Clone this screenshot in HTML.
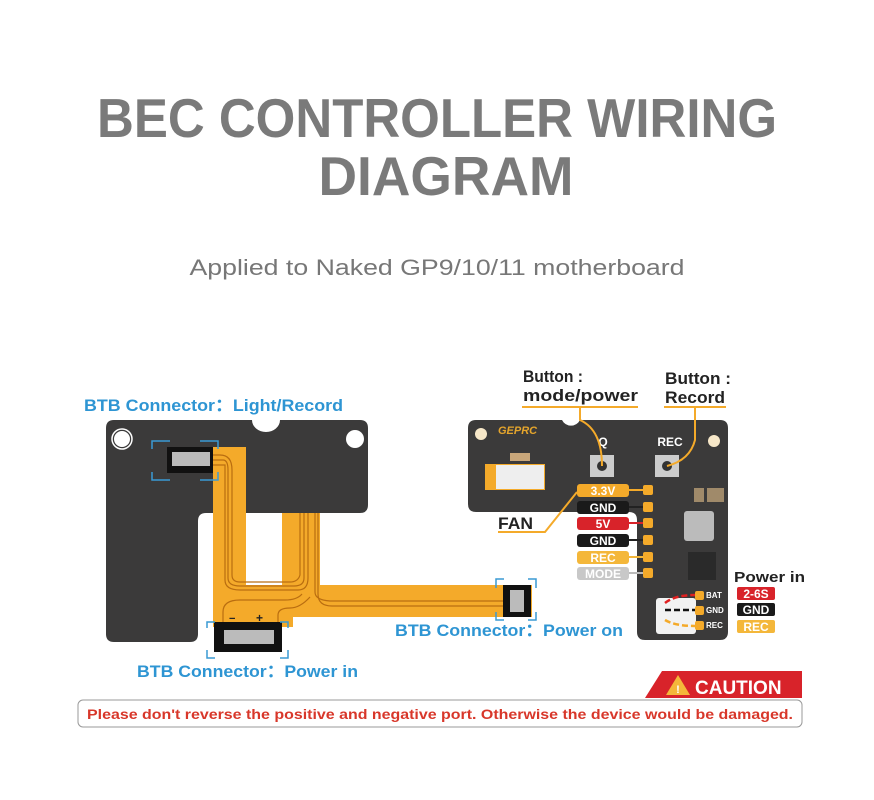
<!DOCTYPE html>
<html><head><meta charset="utf-8"><style>html,body{margin:0;padding:0;background:#fff}svg{display:block}</style></head>
<body>
<svg width="874" height="800" viewBox="0 0 874 800" xmlns="http://www.w3.org/2000/svg" font-family="Liberation Sans, sans-serif">
<rect width="874" height="800" fill="#fff"/>
<text x="437" y="137" text-anchor="middle" font-size="55" font-weight="bold" fill="#7a7a7a" textLength="680" lengthAdjust="spacingAndGlyphs">BEC CONTROLLER WIRING</text>
<text x="446" y="195" text-anchor="middle" font-size="55" font-weight="bold" fill="#7a7a7a" textLength="255" lengthAdjust="spacingAndGlyphs">DIAGRAM</text>
<text x="437" y="275" text-anchor="middle" font-size="22" fill="#777" textLength="495" lengthAdjust="spacingAndGlyphs">Applied to Naked GP9/10/11 motherboard</text>

<!-- left board -->
<path d="M114 420 H252 A14 12 0 0 0 280 420 H360 Q368 420 368 428 V505 Q368 513 360 513 H206 Q198 513 198 521 V634 Q198 642 190 642 H114 Q106 642 106 634 V428 Q106 420 114 420Z" fill="#3b3a3a"/>
<circle cx="122" cy="439" r="9" fill="#fff" stroke="#3b3a3a" stroke-width="2"/><circle cx="122" cy="439" r="10" fill="none" stroke="#fff" stroke-width="1.5"/>
<circle cx="355" cy="439" r="9" fill="#fff"/>
<!-- flex -->
<g fill="#f4aa2a">
<rect x="213" y="447" width="33" height="180"/>
<rect x="282" y="513" width="38" height="90"/>
<rect x="240" y="585" width="292" height="32"/>
<rect x="213" y="595" width="80" height="32"/>
</g>
<g fill="none" stroke="#b96d10" stroke-width="1.2">
<path d="M205 455 H220 Q232 455 232 470 V575 Q232 582 240 582 H290 Q298 582 300 575 V513"/>
<path d="M205 460 H223 Q228 460 228 470 V578 Q228 586 240 586 H294 Q304 586 304 578 V513"/>
<path d="M205 465 H225 V580 Q225 590 240 590 H298 Q308 590 308 578 V513"/>
<path d="M315 513 V592 Q315 600 330 601 H500 Q510 601 512 598"/>
<path d="M318 513 V594 Q318 606 332 606 H505"/>
<path d="M223 627 V612 Q223 600 240 600 H285 Q297 600 302 594"/>
<path d="M278 627 V615 Q278 608 290 608 Q300 608 310 597"/>
</g>
<rect x="167" y="447" width="46" height="26" fill="#111"/>
<rect x="172" y="452" width="38" height="14" fill="#bbb"/>
<rect x="214" y="622" width="68" height="30" fill="#111"/>
<rect x="224" y="630" width="50" height="14" fill="#bbb"/>
<rect x="503" y="585" width="28" height="32" fill="#111"/>
<rect x="510" y="590" width="14" height="22" fill="#bbb"/>
<text x="229" y="622" font-size="11" font-weight="bold" fill="#222">−</text>
<text x="256" y="622" font-size="12" font-weight="bold" fill="#222">+</text>
<g fill="none" stroke="#3a9ad4" stroke-width="1.5">
<path d="M152 449 V441 H170 M200 441 H218 V449 M152 472 V480 H170 M200 480 H218 V472"/>
<path d="M207 628 V622 H215 M280 622 H288 V628 M207 650 V658 H215 M280 658 H288 V650"/>
<path d="M496 588 V579 H504 M528 579 H536 V588 M496 612 V620 H504 M528 620 H536 V612"/>
</g>
<g font-size="17" font-weight="bold" fill="#2e95d3">
<text x="84" y="411" textLength="259" lengthAdjust="spacingAndGlyphs">BTB Connector：Light/Record</text>
<text x="137" y="677" textLength="221" lengthAdjust="spacingAndGlyphs">BTB Connector：Power in</text>
<text x="395" y="636" textLength="228" lengthAdjust="spacingAndGlyphs">BTB Connector：Power on</text>
</g>

<!-- right board -->
<path d="M476 420 H562 A10 10 0 0 0 580 420 H720 Q728 420 728 428 V632 Q728 640 720 640 H645 Q637 640 637 632 V520 Q637 512 629 512 H476 Q468 512 468 504 V428 Q468 420 476 420Z" fill="#3b3a3a"/>
<circle cx="481" cy="434" r="6" fill="#f6e7c8"/><circle cx="714" cy="441" r="6" fill="#f6e7c8"/>
<text x="498" y="434" font-size="11" font-weight="bold" font-style="italic" fill="#e5a52c">GEPRC</text>
<rect x="485" y="464" width="60" height="26" fill="#f4aa2a"/><rect x="496" y="465" width="48" height="24" fill="#eee"/>
<rect x="510" y="453" width="20" height="8" fill="#c8a67a"/>
<rect x="590" y="455" width="24" height="22" fill="#ccc"/><circle cx="602" cy="466" r="5" fill="#333"/>
<rect x="655" y="455" width="24" height="22" fill="#ccc"/><circle cx="667" cy="466" r="5" fill="#333"/>
<text x="603" y="446" font-size="12" font-weight="bold" fill="#fff" text-anchor="middle">Q</text>
<text x="670" y="446" font-size="12" font-weight="bold" fill="#fff" text-anchor="middle">REC</text>
<rect x="684" y="511" width="30" height="30" rx="3" fill="#bbb"/>
<rect x="694" y="488" width="10" height="14" fill="#a08a6a"/><rect x="707" y="488" width="10" height="14" fill="#a08a6a"/><rect x="716" y="488" width="8" height="14" fill="#a08a6a"/>
<rect x="688" y="552" width="28" height="28" fill="#2a2a2a"/>
<rect x="656" y="598" width="40" height="36" rx="3" fill="#f2f2f2"/>
<g fill="#f4aa2a"><rect x="643" y="485" width="10" height="10" rx="2"/><rect x="643" y="502" width="10" height="10" rx="2"/><rect x="643" y="518" width="10" height="10" rx="2"/><rect x="643" y="535" width="10" height="10" rx="2"/><rect x="643" y="552" width="10" height="10" rx="2"/><rect x="643" y="568" width="10" height="10" rx="2"/>
<rect x="695" y="591" width="9" height="9" rx="2"/><rect x="695" y="606" width="9" height="9" rx="2"/><rect x="695" y="621" width="9" height="9" rx="2"/></g>
<g stroke-width="2.5" fill="none" stroke-dasharray="6,3"><path d="M665 603 Q675 595 695 595" stroke="#e02020"/><path d="M665 610 H695" stroke="#111"/><path d="M665 620 Q675 626 695 626" stroke="#f4aa2a"/></g>
<g font-size="8" font-weight="bold" fill="#fff"><text x="706" y="598">BAT</text><text x="706" y="613">GND</text><text x="706" y="628">REC</text></g>
<!-- wire pills -->
<g stroke-width="2"><line x1="628" y1="490" x2="643" y2="490" stroke="#f4aa2a"/><line x1="628" y1="507" x2="643" y2="507" stroke="#222"/><line x1="628" y1="523" x2="643" y2="523" stroke="#d8232a"/><line x1="628" y1="540" x2="643" y2="540" stroke="#222"/><line x1="628" y1="557" x2="643" y2="557" stroke="#f4b73a"/><line x1="628" y1="573" x2="643" y2="573" stroke="#bbb"/></g>
<g font-size="12" font-weight="bold" fill="#fff" text-anchor="middle">
<rect x="577" y="484" width="52" height="13" rx="3" fill="#f4aa2a"/><text x="603" y="495">3.3V</text>
<rect x="577" y="501" width="52" height="13" rx="3" fill="#1a1a1a"/><text x="603" y="512">GND</text>
<rect x="577" y="517" width="52" height="13" rx="3" fill="#d8232a"/><text x="603" y="528">5V</text>
<rect x="577" y="534" width="52" height="13" rx="3" fill="#1a1a1a"/><text x="603" y="545">GND</text>
<rect x="577" y="551" width="52" height="13" rx="3" fill="#f4b73a"/><text x="603" y="562">REC</text>
<rect x="577" y="567" width="52" height="13" rx="3" fill="#c8c8c8"/><text x="603" y="578">MODE</text>
<rect x="737" y="587" width="38" height="13" rx="2" fill="#d8232a"/><text x="756" y="598">2-6S</text>
<rect x="737" y="603" width="38" height="13" rx="2" fill="#1a1a1a"/><text x="756" y="614">GND</text>
<rect x="737" y="620" width="38" height="13" rx="2" fill="#f4b73a"/><text x="756" y="631">REC</text>
</g>
<text x="734" y="582" font-size="15" font-weight="bold" fill="#222" textLength="71" lengthAdjust="spacingAndGlyphs">Power in</text>
<!-- callouts -->
<g stroke="#f4aa2a" stroke-width="2" fill="none">
<path d="M522 407 H638 M580 407 L580 420 Q602 430 602 466"/>
<path d="M664 407 H726 M695 407 V440 Q690 460 667 466"/>
<path d="M498 532 H545 L577 492"/>
</g>
<g font-size="17" font-weight="bold" fill="#222">
<text x="523" y="382" textLength="60" lengthAdjust="spacingAndGlyphs">Button :</text><text x="523" y="401" textLength="115" lengthAdjust="spacingAndGlyphs">mode/power</text>
<text x="665" y="384" textLength="66" lengthAdjust="spacingAndGlyphs">Button :</text><text x="665" y="403" textLength="60" lengthAdjust="spacingAndGlyphs">Record</text>
<text x="498" y="529" textLength="35" lengthAdjust="spacingAndGlyphs">FAN</text>
</g>

<!-- caution -->
<path d="M662 671 H802 V698 H645Z" fill="#d8232a"/>
<path d="M678 675 L690 695 H666Z" fill="#f4b73a"/><text x="678" y="693" font-size="11" font-weight="bold" fill="#fff" text-anchor="middle">!</text>
<text x="695" y="694" font-size="19" font-weight="bold" fill="#fff">CAUTION</text>
<rect x="78" y="700" width="724" height="27" rx="5" fill="#fff" stroke="#999" stroke-width="1"/>
<text x="440" y="719" text-anchor="middle" font-size="13.5" font-weight="bold" fill="#d8372a" textLength="706" lengthAdjust="spacingAndGlyphs">Please don't reverse the positive and negative port. Otherwise the device would be damaged.</text>
</svg>
</body></html>
